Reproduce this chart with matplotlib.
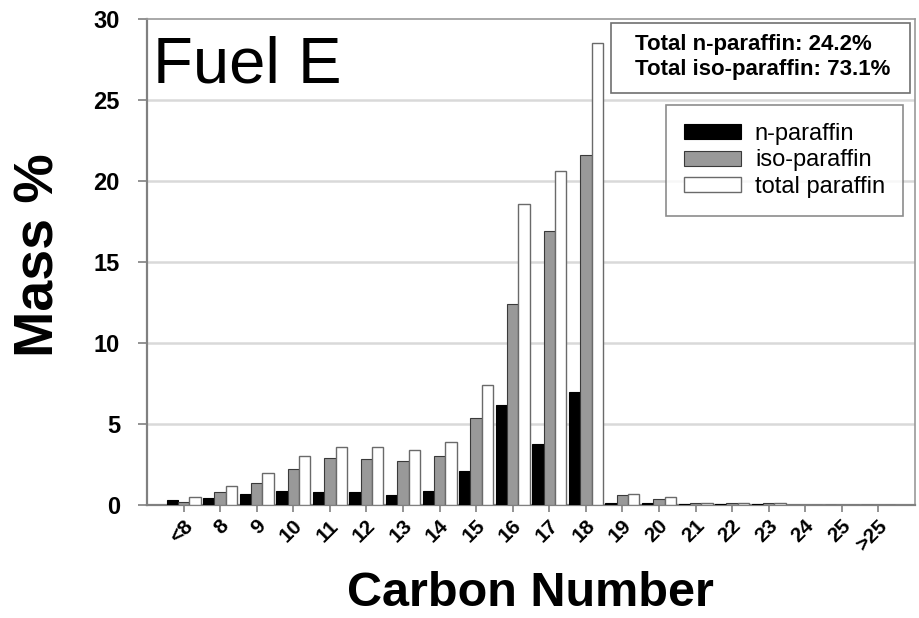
import matplotlib
matplotlib.use("Agg")
import matplotlib.pyplot as plt
from matplotlib.patches import Rectangle
from matplotlib.transforms import ScaledTranslation
import numpy as np

categories = ['<8', '8', '9', '10', '11', '12', '13', '14', '15', '16', '17', '18',
              '19', '20', '21', '22', '23', '24', '25', '>25']
n_paraffin = [0.3, 0.45, 0.65, 0.85, 0.8, 0.8, 0.6, 0.85, 2.1, 6.15, 3.75, 7.0,
              0.1, 0.1, 0.04, 0.04, 0.04, 0, 0, 0]
iso_paraffin = [0.2, 0.8, 1.35, 2.2, 2.9, 2.85, 2.7, 3.05, 5.4, 12.4, 16.9, 21.6,
                0.6, 0.4, 0.12, 0.12, 0.12, 0, 0, 0]
total_paraffin = [0.5, 1.2, 2.0, 3.0, 3.6, 3.6, 3.4, 3.9, 7.4, 18.6, 20.6, 28.5,
                  0.7, 0.5, 0.12, 0.12, 0.12, 0, 0, 0]
yticks = [0, 5, 10, 15, 20, 25, 30]
summary = "Total n-paraffin: 24.2%\nTotal iso-paraffin: 73.1%"
title = "Fuel E"

plt.rcParams['font.family'] = ['Liberation Sans', 'DejaVu Sans']

fig = plt.figure(figsize=(9.2, 6.18), dpi=100)
ax = fig.add_axes([147/920, 1-505/618, (915-147)/920, (505-19)/618])

x = np.arange(len(categories))
w = 0.31
ax.bar(x - w, n_paraffin, w, color='black', edgecolor='black', linewidth=0.8,
       label='n-paraffin', zorder=3)
ax.bar(x, iso_paraffin, w, color='#999999', edgecolor='#3a3a3a', linewidth=0.8,
       label='iso-paraffin', zorder=3)
ax.bar(x + w, total_paraffin, w, color='white', edgecolor='#6a6a6a', linewidth=1.0,
       label='total paraffin', zorder=3)

ax.set_xlim(-1, 20)
ax.set_ylim(0, 30)
ax.set_yticks(yticks)
ax.set_yticklabels([str(v) for v in yticks], fontsize=17, fontweight='bold')
ax.set_xticks(x)
ax.set_xticklabels(categories, fontsize=15, fontweight='bold', rotation=45,
                   ha='right', va='center', rotation_mode='anchor')
ax.tick_params(axis='y', direction='out', length=6.5, width=1.2, color='#808080', pad=13)
ax.tick_params(axis='x', direction='out', length=5, width=1.2, color='#808080', pad=8)
offset = ScaledTranslation(6/100, 0, fig.dpi_scale_trans)
for lab in ax.get_xticklabels():
    lab.set_transform(lab.get_transform() + offset)

for yv in yticks[1:-1]:
    ax.axhline(yv, color='#d9d9d9', linewidth=1.8, zorder=1)

for s in ['left', 'bottom']:
    ax.spines[s].set_color('#808080')
    ax.spines[s].set_linewidth(1.6)
for s in ['top', 'right']:
    ax.spines[s].set_color('#9a9a9a')
    ax.spines[s].set_linewidth(1.2)

ax.text(0.008, 0.870, title, transform=ax.transAxes, fontsize=47,
        va='baseline', ha='left')

ax.add_patch(Rectangle((0.604, 0.848), 0.389, 0.144, transform=ax.transAxes,
                       facecolor='white', edgecolor='#707070', linewidth=1.2, zorder=4))
ax.text(0.636, 0.922, summary, transform=ax.transAxes, fontsize=16,
        fontweight='bold', ha='left', va='center', linespacing=1.3, zorder=5)

leg = ax.legend(loc='upper right', bbox_to_anchor=(0.984, 0.823), fontsize=17,
                frameon=True, fancybox=False, edgecolor='#707070',
                handlelength=2.4, handleheight=0.6, labelspacing=0.2,
                borderpad=0.75, handletextpad=0.6, borderaxespad=0)
leg.get_frame().set_linewidth(1.2)

fig.text(40/920, 1-255/618, 'Mass %', rotation=90, ha='center', va='center',
         fontsize=40, fontweight='bold')
fig.text(530/920, 1-594/618, 'Carbon Number', ha='center', va='center',
         fontsize=35, fontweight='bold')

fig.savefig('out.png', dpi=100)
